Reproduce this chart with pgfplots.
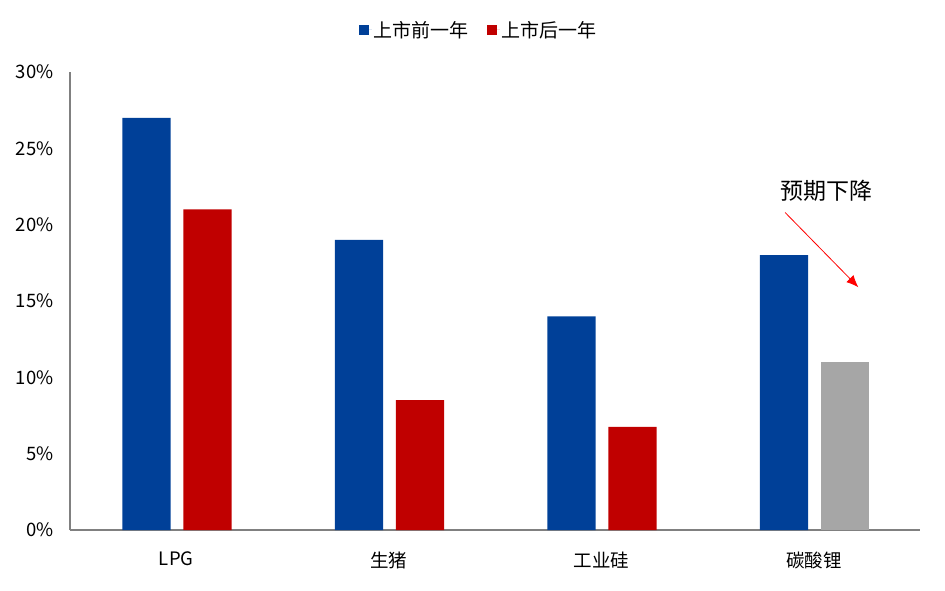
\documentclass[border=0pt]{standalone}
\usepackage{pgfplots}
\pgfplotsset{compat=1.18}
\usetikzlibrary{arrows.meta}
\usepackage{fontspec}
\setmainfont{Noto Sans CJK SC}
\definecolor{cblue}{RGB}{0,64,152}
\definecolor{cred}{RGB}{192,0,0}
\definecolor{cgray}{RGB}{166,166,166}
\definecolor{caxis}{RGB}{128,128,128}
\begin{document}
\begin{tikzpicture}[x=1pt,y=1pt]
\useasboundingbox (0,0) rectangle (945,590);
\begin{axis}[
  at={(70pt,60pt)}, anchor=south west,
  scale only axis, width=850pt, height=458pt,
  xmin=-0.5, xmax=3.5, ymin=0, ymax=30,
  axis x line*=bottom, axis y line*=left,
  axis line style={draw=caxis, line width=1.5pt},
  xtick={0,1,2,3}, xticklabels={LPG,生猪,工业硅,碳酸锂},
  ytick={0,5,10,15,20,25,30},
  yticklabel={\pgfmathprintnumber{\tick}\%},
  /pgf/number format/assume math mode=true,
  major tick length=0pt,
  tick label style={font=\fontsize{18.5}{20}\selectfont, text=black},
  yticklabel style={xshift=-13pt},
  xticklabel style={yshift=-18pt},
  ybar, bar width=0.226,
  legend style={draw=none, fill=none, at={(0.481,1.092)}, anchor=center,
    legend columns=2, font=\fontsize{19}{21}\selectfont,
    /tikz/every even column/.append style={column sep=16pt}},
  legend image code/.code={\fill[#1] (0pt,-5pt) rectangle (10pt,5pt); \path (0pt,0pt) -- (13pt,0pt);},
]
\addplot[fill=cblue, draw=none, bar shift=-0.14] coordinates {(0,27) (1,19) (2,14) (3,18)};
\addlegendentry{上市前一年}
\addplot[fill=cred, draw=none, bar shift=0.147] coordinates {(0,21) (1,8.5) (2,6.75)};
\addlegendentry{上市后一年}
\addplot[fill=cgray, draw=none, bar shift=0.147, forget plot] coordinates {(3,11)};
\node[font=\fontsize{23}{26}\selectfont] at (axis cs:3.062,22.2) {预期下降};
\draw[red, line width=0.8pt, -{Latex[length=12pt,width=10pt]}] (axis cs:2.865,20.8) -- (axis cs:3.21,15.9);
\end{axis}
\end{tikzpicture}
\end{document}
